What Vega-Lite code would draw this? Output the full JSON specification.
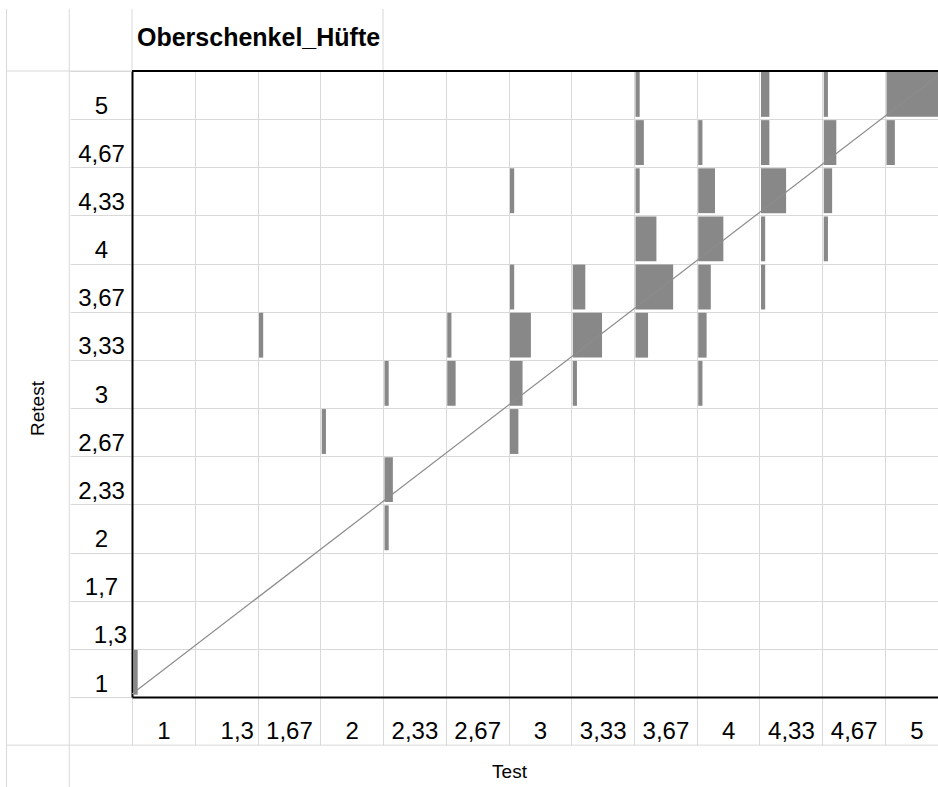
{
  "$schema": "https://vega.github.io/schema/vega-lite/v6.json",
  "width": 806,
  "height": 626,
  "autosize": "none",
  "padding": {"left": 132, "top": 71, "right": 0, "bottom": 90},
  "background": "#ffffff",
  "config": {
    "view": {"stroke": null},
    "font": "Liberation Sans"
  },
  "title": {
    "text": "Oberschenkel_Hüfte",
    "anchor": "start",
    "frame": "group",
    "font": "Liberation Sans",
    "fontSize": 25,
    "fontWeight": "bold",
    "color": "#000000",
    "baseline": "bottom",
    "offset": -68,
    "dx": 5
  },
  "datasets": {
    "counts": [
      {"Test": 3.66667, "Retest": 5, "n": 1},
      {"Test": 4.33333, "Retest": 5, "n": 2},
      {"Test": 4.66667, "Retest": 5, "n": 1},
      {"Test": 5, "Retest": 5, "n": 14},
      {"Test": 3.66667, "Retest": 4.66667, "n": 2},
      {"Test": 4, "Retest": 4.66667, "n": 1},
      {"Test": 4.33333, "Retest": 4.66667, "n": 2},
      {"Test": 4.66667, "Retest": 4.66667, "n": 3},
      {"Test": 5, "Retest": 4.66667, "n": 2},
      {"Test": 3, "Retest": 4.33333, "n": 1},
      {"Test": 3.66667, "Retest": 4.33333, "n": 1},
      {"Test": 4, "Retest": 4.33333, "n": 4},
      {"Test": 4.33333, "Retest": 4.33333, "n": 6},
      {"Test": 4.66667, "Retest": 4.33333, "n": 2},
      {"Test": 3.66667, "Retest": 4, "n": 5},
      {"Test": 4, "Retest": 4, "n": 6},
      {"Test": 4.33333, "Retest": 4, "n": 1},
      {"Test": 4.66667, "Retest": 4, "n": 1},
      {"Test": 3, "Retest": 3.66667, "n": 1},
      {"Test": 3.33333, "Retest": 3.66667, "n": 3},
      {"Test": 3.66667, "Retest": 3.66667, "n": 9},
      {"Test": 4, "Retest": 3.66667, "n": 3},
      {"Test": 4.33333, "Retest": 3.66667, "n": 1},
      {"Test": 1.66667, "Retest": 3.33333, "n": 1},
      {"Test": 2.66667, "Retest": 3.33333, "n": 1},
      {"Test": 3, "Retest": 3.33333, "n": 5},
      {"Test": 3.33333, "Retest": 3.33333, "n": 7},
      {"Test": 3.66667, "Retest": 3.33333, "n": 3},
      {"Test": 4, "Retest": 3.33333, "n": 2},
      {"Test": 2.33333, "Retest": 3, "n": 1},
      {"Test": 2.66667, "Retest": 3, "n": 2},
      {"Test": 3, "Retest": 3, "n": 3},
      {"Test": 3.33333, "Retest": 3, "n": 1},
      {"Test": 4, "Retest": 3, "n": 1},
      {"Test": 2, "Retest": 2.66667, "n": 1},
      {"Test": 3, "Retest": 2.66667, "n": 2},
      {"Test": 2.33333, "Retest": 2.33333, "n": 2},
      {"Test": 2.33333, "Retest": 2, "n": 1},
      {"Test": 1, "Retest": 1, "n": 1}
    ],
    "identity": [
      {"score": 1},
      {"score": 5.33333}
    ]
  },
  "layer": [
    {
      "data": {"name": "counts"},
      "transform": [
        {"calculate": "datum.Test + datum.n / 45", "as": "Test_end"},
        {"calculate": "datum.Retest + 1 / 3", "as": "Retest_top"}
      ],
      "mark": {"type": "bar", "color": "#888888", "xOffset": 1.5, "x2Offset": 1.5, "yOffset": -2.3, "y2Offset": 1},
      "encoding": {
        "x": {
          "field": "Test",
          "type": "quantitative",
          "scale": {"domain": [1, 5.28154], "nice": false, "zero": false},
          "axis": {
            "orient": "bottom",
            "values": [1, 1.33333, 1.66667, 2, 2.33333, 2.66667, 3, 3.33333, 3.66667, 4, 4.33333, 4.66667, 5],
            "grid": true,
            "gridColor": "#d9d9d9",
            "gridWidth": 1,
            "ticks": true,
            "tickSize": 48,
            "tickColor": "#d9d9d9",
            "tickWidth": 1,
            "domain": true,
            "domainColor": "#000000",
            "domainWidth": 2,
            "labelExpr": "['1','1,3','1,67','2','2,33','2,67','3','3,33','3,67','4','4,33','4,67','5'][round((datum.value - 1) * 3)]",
            "labelFont": "Liberation Sans",
            "labelFontSize": 24,
            "labelColor": "#000000",
            "labelAlign": "center",
            "labelBaseline": "alphabetic",
            "labelOffset": {"condition": {"test": "abs(datum.value - 4 / 3) < 0.01", "value": 42}, "value": 31.4},
            "labelPadding": -6.5,
            "labelFlush": false,
            "labelOverlap": false,
            "title": "Test",
            "titleFont": "Liberation Sans",
            "titleFontSize": 19,
            "titleFontWeight": "normal",
            "titleColor": "#000000",
            "titleX": 377,
            "titleY": 80,
            "titleAlign": "center",
            "titleBaseline": "alphabetic"
          }
        },
        "x2": {"field": "Test_end"},
        "y": {
          "field": "Retest",
          "type": "quantitative",
          "scale": {"domain": [1, 5.33333], "nice": false, "zero": false},
          "axis": {
            "orient": "left",
            "values": [1, 1.33333, 1.66667, 2, 2.33333, 2.66667, 3, 3.33333, 3.66667, 4, 4.33333, 4.66667, 5, 5.33333],
            "grid": true,
            "gridColor": "#d9d9d9",
            "gridWidth": 1,
            "ticks": true,
            "tickSize": 62,
            "tickColor": "#d9d9d9",
            "tickWidth": 1,
            "domain": true,
            "domainColor": "#000000",
            "domainWidth": 2,
            "labelExpr": "['1','1,3','1,7','2','2,33','2,67','3','3,33','3,67','4','4,33','4,67','5',''][round((datum.value - 1) * 3)]",
            "labelFont": "Liberation Sans",
            "labelFontSize": 24,
            "labelColor": "#000000",
            "labelAlign": "center",
            "labelBaseline": "alphabetic",
            "labelOffset": -6,
            "labelPadding": {"condition": {"test": "abs(datum.value - 4 / 3) < 0.01", "value": -40}, "value": -31},
            "labelFlush": false,
            "labelOverlap": false,
            "title": "Retest",
            "titleFont": "Liberation Sans",
            "titleFontSize": 19,
            "titleFontWeight": "normal",
            "titleColor": "#000000",
            "titleAngle": -90,
            "titleX": -89,
            "titleY": 337,
            "titleAlign": "center",
            "titleBaseline": "alphabetic"
          }
        },
        "y2": {"field": "Retest_top"}
      }
    },
    {
      "data": {"name": "identity"},
      "mark": {"type": "line", "color": "#8c8c8c", "strokeWidth": 1.2, "yOffset": -3},
      "encoding": {
        "x": {"field": "score", "type": "quantitative"},
        "y": {"field": "score", "type": "quantitative"}
      }
    },
    {
      "data": {"values": [{}]},
      "mark": {"type": "rule", "color": "#d9d9d9", "strokeWidth": 1},
      "encoding": {
        "x": {"datum": 0.33333, "type": "quantitative"},
        "x2": {"datum": 1},
        "y": {"datum": 5.33333, "type": "quantitative"}
      }
    },
    {
      "data": {"values": [{}]},
      "mark": {"type": "rule", "color": "#d9d9d9", "strokeWidth": 1},
      "encoding": {
        "x": {"datum": 0.33333, "type": "quantitative"},
        "x2": {"datum": 5.4},
        "y": {"datum": 0.66667, "type": "quantitative"}
      }
    },
    {
      "data": {"values": [{}]},
      "mark": {"type": "rule", "color": "#d9d9d9", "strokeWidth": 1},
      "encoding": {
        "x": {"datum": 0.33333, "type": "quantitative"},
        "y": {"datum": 5.763, "type": "quantitative"},
        "y2": {"datum": 0.3}
      }
    },
    {
      "data": {"values": [{}]},
      "mark": {"type": "rule", "color": "#d9d9d9", "strokeWidth": 1},
      "encoding": {
        "x": {"datum": 0.66667, "type": "quantitative"},
        "y": {"datum": 5.763, "type": "quantitative"},
        "y2": {"datum": 0.3}
      }
    },
    {
      "data": {"values": [{}]},
      "mark": {"type": "rule", "color": "#d9d9d9", "strokeWidth": 1},
      "encoding": {
        "x": {"datum": 1, "type": "quantitative"},
        "y": {"datum": 5.763, "type": "quantitative"},
        "y2": {"datum": 5.33333}
      }
    },
    {
      "data": {"values": [{}]},
      "mark": {"type": "rule", "color": "#d9d9d9", "strokeWidth": 1},
      "encoding": {
        "x": {"datum": 2.33333, "type": "quantitative"},
        "y": {"datum": 5.763, "type": "quantitative"},
        "y2": {"datum": 5.33333}
      }
    },
    {
      "data": {"values": [{}]},
      "mark": {"type": "rule", "color": "#000000", "strokeWidth": 2},
      "encoding": {
        "y": {"datum": 5.33333, "type": "quantitative"}
      }
    }
  ]
}
